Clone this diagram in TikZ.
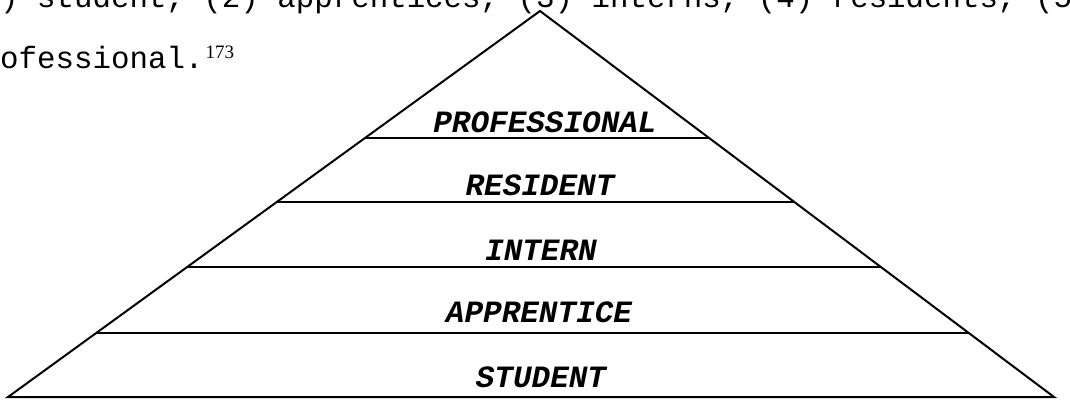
\documentclass[tikz,border=0pt]{standalone}
\usepackage{fontspec}
\setmonofont{Liberation Mono}
\newfontfamily\supfont{Liberation Serif}
\usetikzlibrary{calc}
\begin{document}
\begin{tikzpicture}[x=1pt,y=-1pt,
  edge/.style={line width=2pt, line join=miter},
  tier/.style={font=\ttfamily\bfseries\itshape\fontsize{31}{31}\selectfont, anchor=base, inner sep=0pt},
  prose/.style={font=\ttfamily\fontsize{30.8}{30.8}\selectfont, anchor=base west, inner sep=0pt}]
\useasboundingbox (0,0) rectangle (1070,399);
\clip (0,0) rectangle (1070,399);
% running text above the figure (cut by the page edge)
\node[prose] (line1) at (0,7) {) student, (2) apprentices, (3) interns, (4) residents, (5)};
\node[prose] (line2) at (0,68) {ofessional.\hspace{2pt}\raisebox{10pt}{\supfont\fontsize{19}{19}\selectfont 173}};
% pyramid
\coordinate (apex) at (540,11);
\coordinate (bl) at (8,397);
\coordinate (br) at (1054,397);
\draw[edge] (bl) -- (apex) -- (br) -- cycle;
\coordinate (l1) at ($(apex)!0.329!(bl)$);
\coordinate (r1) at ($(apex)!0.329!(br)$);
\coordinate (l2) at ($(apex)!0.4948!(bl)$);
\coordinate (r2) at ($(apex)!0.4948!(br)$);
\coordinate (l3) at ($(apex)!0.6632!(bl)$);
\coordinate (r3) at ($(apex)!0.6632!(br)$);
\coordinate (l4) at ($(apex)!0.8342!(bl)$);
\coordinate (r4) at ($(apex)!0.8342!(br)$);
\draw[edge] (l1) -- (r1);
\draw[edge] (l2) -- (r2);
\draw[edge] (l3) -- (r3);
\draw[edge] (l4) -- (r4);
\node[tier] (prof) at (545,132) {PROFESSIONAL};
\node[tier] (res) at (540,195) {RESIDENT};
\node[tier] (int) at (541,260) {INTERN};
\node[tier] (app) at (539,322) {APPRENTICE};
\node[tier] (stu) at (541,387) {STUDENT};
\end{tikzpicture}
\end{document}
